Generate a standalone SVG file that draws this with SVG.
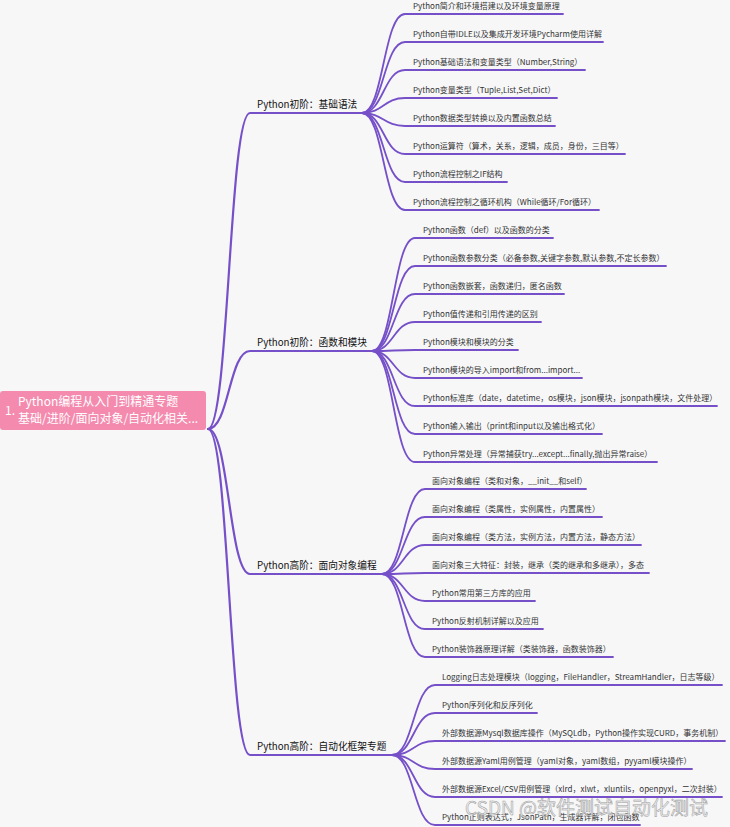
<svg xmlns="http://www.w3.org/2000/svg" width="730" height="827" viewBox="0 0 730 827">
<style>
.bg{fill:#f7f7f8}
.c{fill:none;stroke:#7650c8;stroke-width:1.8;stroke-linecap:round}
.cb{fill:none;stroke:#7650c8;stroke-width:2.2;stroke-linecap:round}
text{font-family:"Noto Sans CJK SC","Noto Sans",sans-serif}
.leaf{font-size:8px;fill:#333}
.br{font-size:9.7px;fill:#111}
.root{font-size:12px;fill:#fff}
.wm{font-size:19px;fill:#ececec;fill-opacity:.8;stroke:#9a9a9a;stroke-width:.5}
</style>
<rect class="bg" width="730" height="827"/>
<g id="connectors">
<path class="cb" d="M208,429 C229,429 229,113 250,113 H362"/>
<path class="cb" d="M208,429 C229,429 229,351 250,351 H372"/>
<path class="cb" d="M208,429 C229,429 229,574 250,574 H382"/>
<path class="cb" d="M208,429 C229,429 229,755 250,755 H392"/>
<path class="c" d="M362,113 C383.5,113 383.5,14 405,14 H563"/>
<path class="c" d="M362,113 C383.5,113 383.5,42 405,42 H603"/>
<path class="c" d="M362,113 C383.5,113 383.5,70 405,70 H585"/>
<path class="c" d="M362,113 C383.5,113 383.5,98 405,98 H557"/>
<path class="c" d="M362,113 C383.5,113 383.5,126 405,126 H555"/>
<path class="c" d="M362,113 C383.5,113 383.5,154 405,154 H625"/>
<path class="c" d="M362,113 C383.5,113 383.5,182 405,182 H507"/>
<path class="c" d="M362,113 C383.5,113 383.5,210 405,210 H599"/>
<path class="c" d="M372,351 C393.5,351 393.5,238 415,238 H553"/>
<path class="c" d="M372,351 C393.5,351 393.5,266 415,266 H666"/>
<path class="c" d="M372,351 C393.5,351 393.5,294 415,294 H564"/>
<path class="c" d="M372,351 C393.5,351 393.5,322 415,322 H541"/>
<path class="c" d="M372,351 C393.5,351 393.5,350 415,350 H518"/>
<path class="c" d="M372,351 C393.5,351 393.5,378 415,378 H582"/>
<path class="c" d="M372,351 C393.5,351 393.5,406 415,406 H717"/>
<path class="c" d="M372,351 C393.5,351 393.5,434 415,434 H602"/>
<path class="c" d="M372,351 C393.5,351 393.5,462 415,462 H657"/>
<path class="c" d="M382,574 C403.5,574 403.5,489 425,489 H586"/>
<path class="c" d="M382,574 C403.5,574 403.5,517 425,517 H602"/>
<path class="c" d="M382,574 C403.5,574 403.5,545 425,545 H641"/>
<path class="c" d="M382,574 C403.5,574 403.5,573 425,573 H649"/>
<path class="c" d="M382,574 C403.5,574 403.5,601 425,601 H535"/>
<path class="c" d="M382,574 C403.5,574 403.5,629 425,629 H543"/>
<path class="c" d="M382,574 C403.5,574 403.5,657 425,657 H613"/>
<path class="c" d="M392,755 C413.5,755 413.5,685 435,685 H722"/>
<path class="c" d="M392,755 C413.5,755 413.5,713 435,713 H537"/>
<path class="c" d="M392,755 C413.5,755 413.5,741 435,741 H725"/>
<path class="c" d="M392,755 C413.5,755 413.5,769 435,769 H692"/>
<path class="c" d="M392,755 C413.5,755 413.5,797 435,797 H722"/>
<path class="c" d="M392,755 C413.5,755 413.5,825 435,825 H640"/>
</g>
<g id="root">
<rect x="0" y="391" width="206" height="39" rx="3" fill="#f48aae"/>
<text class="root" x="5" y="415">1.</text>
<text class="root" x="18" y="406">Python编程从入门到精通专题</text>
<text class="root" x="18" y="423">基础/进阶/面向对象/自动化相关...</text>
</g>
<g id="b1"><text class="br" x="257" y="108">Python初阶：基础语法</text></g>
<g id="b2"><text class="br" x="257" y="346">Python初阶：函数和模块</text></g>
<g id="b3"><text class="br" x="257" y="569">Python高阶：面向对象编程</text></g>
<g id="b4"><text class="br" x="257" y="750">Python高阶：自动化框架专题</text></g>
<g id="b1-leaves">
<g id="l1-1"><text class="leaf" x="413" y="9">Python简介和环境搭建以及环境变量原理</text></g>
<g id="l1-2"><text class="leaf" x="413" y="37">Python自带IDLE以及集成开发环境Pycharm使用详解</text></g>
<g id="l1-3"><text class="leaf" x="413" y="65">Python基础语法和变量类型（Number,String）</text></g>
<g id="l1-4"><text class="leaf" x="413" y="93">Python变量类型（Tuple,List,Set,Dict）</text></g>
<g id="l1-5"><text class="leaf" x="413" y="121">Python数据类型转换以及内置函数总结</text></g>
<g id="l1-6"><text class="leaf" x="413" y="149">Python运算符（算术，关系，逻辑，成员，身份，三目等）</text></g>
<g id="l1-7"><text class="leaf" x="413" y="177">Python流程控制之IF结构</text></g>
<g id="l1-8"><text class="leaf" x="413" y="205">Python流程控制之循环机构（While循环/For循环）</text></g>
</g>
<g id="b2-leaves">
<g id="l2-1"><text class="leaf" x="423" y="233">Python函数（def）以及函数的分类</text></g>
<g id="l2-2"><text class="leaf" x="423" y="261">Python函数参数分类（必备参数,关键字参数,默认参数,不定长参数）</text></g>
<g id="l2-3"><text class="leaf" x="423" y="289">Python函数嵌套，函数递归，匿名函数</text></g>
<g id="l2-4"><text class="leaf" x="423" y="317">Python值传递和引用传递的区别</text></g>
<g id="l2-5"><text class="leaf" x="423" y="345">Python模块和模块的分类</text></g>
<g id="l2-6"><text class="leaf" x="423" y="373">Python模块的导入import和from...import...</text></g>
<g id="l2-7"><text class="leaf" x="423" y="401">Python标准库（date，datetime，os模块，json模块，jsonpath模块，文件处理）</text></g>
<g id="l2-8"><text class="leaf" x="423" y="429">Python输入输出（print和input以及输出格式化）</text></g>
<g id="l2-9"><text class="leaf" x="423" y="457">Python异常处理（异常捕获try...except...finally,抛出异常raise）</text></g>
</g>
<g id="b3-leaves">
<g id="l3-1"><text class="leaf" x="432" y="484">面向对象编程（类和对象，__init__和self）</text></g>
<g id="l3-2"><text class="leaf" x="432" y="512">面向对象编程（类属性，实例属性，内置属性）</text></g>
<g id="l3-3"><text class="leaf" x="432" y="540">面向对象编程（类方法，实例方法，内置方法，静态方法）</text></g>
<g id="l3-4"><text class="leaf" x="432" y="568">面向对象三大特征：封装，继承（类的继承和多继承），多态</text></g>
<g id="l3-5"><text class="leaf" x="432" y="596">Python常用第三方库的应用</text></g>
<g id="l3-6"><text class="leaf" x="432" y="624">Python反射机制详解以及应用</text></g>
<g id="l3-7"><text class="leaf" x="432" y="652">Python装饰器原理详解（类装饰器，函数装饰器）</text></g>
</g>
<g id="b4-leaves">
<g id="l4-1"><text class="leaf" x="442" y="680">Logging日志处理模块（logging，FileHandler，StreamHandler，日志等级）</text></g>
<g id="l4-2"><text class="leaf" x="442" y="708">Python序列化和反序列化</text></g>
<g id="l4-3"><text class="leaf" x="442" y="736">外部数据源Mysql数据库操作（MySQLdb，Python操作实现CURD，事务机制）</text></g>
<g id="l4-4"><text class="leaf" x="442" y="764">外部数据源Yaml用例管理（yaml对象，yaml数组，pyyaml模块操作）</text></g>
<g id="l4-5"><text class="leaf" x="442" y="792">外部数据源Excel/CSV用例管理（xlrd，xlwt，xluntils，openpyxl，二次封装）</text></g>
<g id="l4-6"><text class="leaf" x="442" y="820">Python正则表达式，JsonPath，生成器详解，闭包函数</text></g>
</g>
<g id="watermark"><text class="wm" x="465" y="815">CSDN @软件测试自动化测试</text></g>
</svg>
